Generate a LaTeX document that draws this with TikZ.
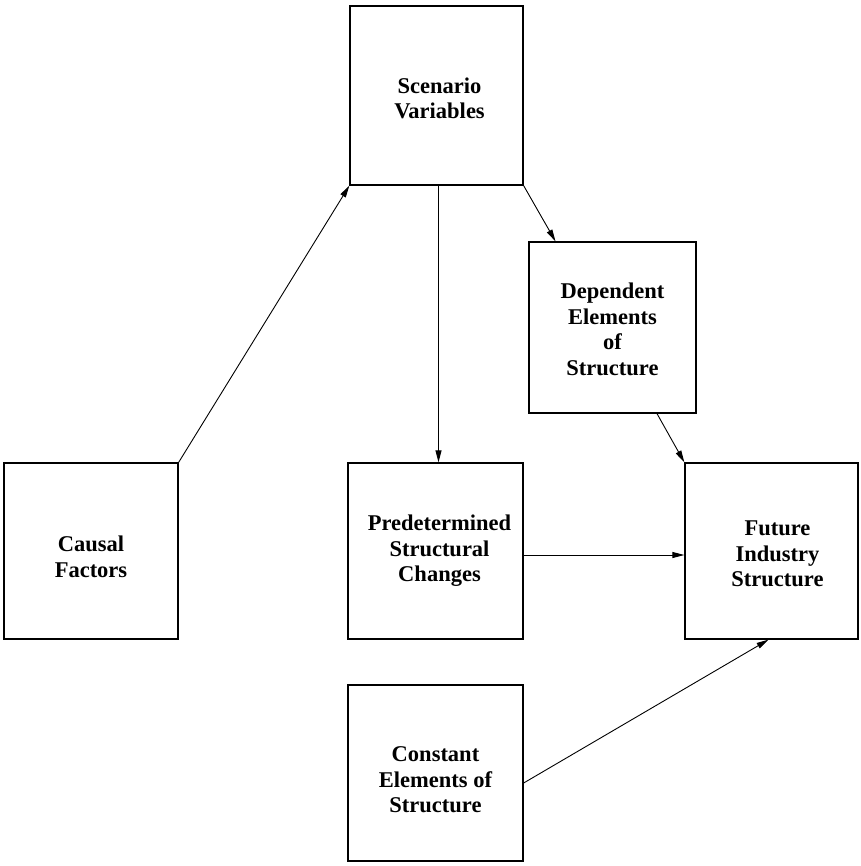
\documentclass[tikz,border=0pt]{standalone}
\usepackage{fontspec}
\setmainfont{Liberation Serif}
\usetikzlibrary{arrows.meta}
\begin{document}
\begin{tikzpicture}[x=1pt,y=-1pt,
  box/.style={draw,line width=1.3pt,rectangle,inner sep=0pt},
  lbl/.style={align=center,inner sep=0pt,
    font=\fontsize{22.5}{25.5}\selectfont\bfseries},
  conn/.style={line width=0.9pt,-{Triangle[length=12pt,width=6pt]}}]
\useasboundingbox (0,0) rectangle (860,866);
\node[box,minimum width=173pt,minimum height=179pt] (scen) at (436.5,95.5) {};
\node[box,minimum width=167pt,minimum height=171pt] (dep) at (612.5,327.5) {};
\node[box,minimum width=174pt,minimum height=176pt] (causal) at (91,551) {};
\node[box,minimum width=175pt,minimum height=176pt] (pred) at (435.5,551) {};
\node[box,minimum width=173pt,minimum height=176pt] (fut) at (771.5,551) {};
\node[box,minimum width=175pt,minimum height=176pt] (const) at (435.5,773) {};
\node[lbl] (scenT) at ([xshift=3pt,yshift=-3pt]scen.center) {Scenario\\Variables};
\node[lbl] (depT) at ([yshift=-2pt]dep.center) {Dependent\\Elements\\of\\Structure};
\node[lbl] (causalT) at ([yshift=-6pt]causal.center) {Causal\\Factors};
\node[lbl] (predT) at ([xshift=4pt]pred.center) {Predetermined\\Structural\\Changes};
\node[lbl] (futT) at ([xshift=6pt,yshift=-3pt]fut.center) {Future\\Industry\\Structure};
\node[lbl] (constT) at ([yshift=-7pt]const.center) {Constant\\Elements of\\Structure};
\draw[conn] (causal.north east) -- (scen.south west);
\draw[conn] ([xshift=2pt]scen.south) -- ([xshift=2pt]scen.south |- pred.north);
\draw[conn] (scen.south east) -- ([xshift=-57pt]dep.north);
\draw[conn] ([xshift=44.5pt]dep.south) -- (fut.north west);
\draw[conn] ([yshift=-4pt]pred.east) -- ([yshift=-4pt]fut.west);
\draw[conn] ([yshift=-10pt]const.east) -- ([xshift=-3pt]fut.south);
\end{tikzpicture}
\end{document}
